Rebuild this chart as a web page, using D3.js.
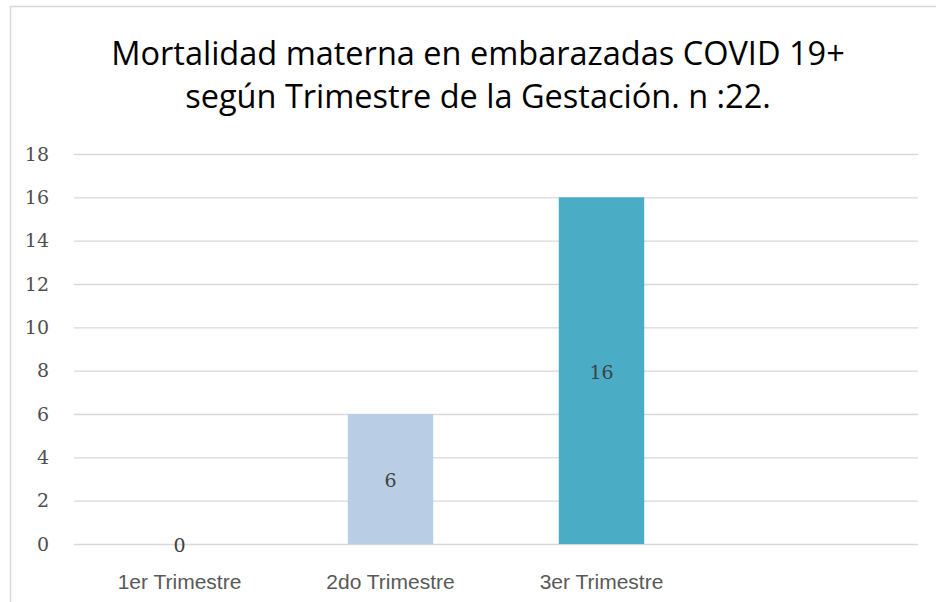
<!DOCTYPE html>
<html>
<head>
<meta charset="utf-8">
<script src="https://cdn.jsdelivr.net/npm/d3@7"></script>
<style>
  body { margin: 0; background: #fff; }
</style>
</head>
<body>
<div id="chart"></div>
<script>
// data
var categories = ["1er Trimestre", "2do Trimestre", "3er Trimestre", ""];
var values = [0, 6, 16, null];
var barColors = ["#B9CDE5", "#B9CDE5", "#4BACC6", "#4BACC6"];
var yTicks = [0, 2, 4, 6, 8, 10, 12, 14, 16, 18];
var titleLines = ["Mortalidad materna en embarazadas COVID 19+", "según Trimestre de la Gestación. n :22."];

var W = 936, H = 602;
var plot = { left: 74, right: 918, top: 154, bottom: 544 };

var svg = d3.select("#chart")
    .append("svg")
    .attr("width", W)
    .attr("height", H);

// chart frame
svg.append("rect")
    .attr("x", 10.5).attr("y", 6.5)
    .attr("width", 960).attr("height", 640)
    .attr("fill", "#fff")
    .attr("stroke", "#d9d9d9")
    .attr("stroke-width", 1.5);

// title
svg.append("g")
    .selectAll("text")
    .data(titleLines)
    .enter()
    .append("text")
    .attr("x", 478)
    .attr("y", function (d, i) { return 65 + i * 43; })
    .attr("text-anchor", "middle")
    .style("font-family", "'Open Sans', 'Noto Sans', sans-serif")
    .style("font-size", "32.5px")
    .style("fill", "#000")
    .text(function (d) { return d; });

// scales
var x = d3.scaleBand()
    .domain(categories)
    .range([plot.left, plot.right])
    .paddingInner(0.595)
    .paddingOuter(0.2975);

var y = d3.scaleLinear()
    .domain([0, 18])
    .range([plot.bottom, plot.top]);

// gridlines + y labels
var yAxis = svg.append("g")
    .attr("transform", "translate(" + plot.left + ",0)")
    .call(d3.axisLeft(y).tickValues(yTicks).tickSize(-(plot.right - plot.left)).tickPadding(25));
yAxis.select(".domain").remove();
yAxis.selectAll(".tick line")
    .attr("stroke", "#d9d9d9")
    .attr("stroke-width", 1.3);
yAxis.selectAll(".tick text")
    .style("font-family", "'DejaVu Serif', serif")
    .style("font-size", "19px")
    .style("fill", "#4f4f4f");

// bars
var data = categories.map(function (c, i) { return { cat: c, val: values[i], color: barColors[i] }; })
    .filter(function (d) { return d.val !== null; });

svg.append("g")
    .selectAll("rect")
    .data(data)
    .enter()
    .append("rect")
    .attr("x", function (d) { return x(d.cat); })
    .attr("y", function (d) { return y(d.val); })
    .attr("width", x.bandwidth())
    .attr("height", function (d) { return y(0) - y(d.val); })
    .attr("fill", function (d) { return d.color; });

// value labels
svg.append("g")
    .selectAll("text")
    .data(data)
    .enter()
    .append("text")
    .attr("x", function (d) { return x(d.cat) + x.bandwidth() / 2; })
    .attr("y", function (d) { return y(d.val / 2) + 1; })
    .attr("text-anchor", "middle")
    .attr("dominant-baseline", "central")
    .style("font-family", "'DejaVu Serif', serif")
    .style("font-size", "19px")
    .style("fill", "#404040")
    .text(function (d) { return d.val; });

// x axis labels
var xAxis = svg.append("g")
    .attr("transform", "translate(0," + plot.bottom + ")")
    .call(d3.axisBottom(x).tickSize(0).tickPadding(30));
xAxis.select(".domain").remove();
xAxis.selectAll(".tick text")
    .style("font-family", "'Liberation Sans', 'Noto Sans', sans-serif")
    .style("font-size", "21px")
    .style("fill", "#595959");
</script>
</body>
</html>
